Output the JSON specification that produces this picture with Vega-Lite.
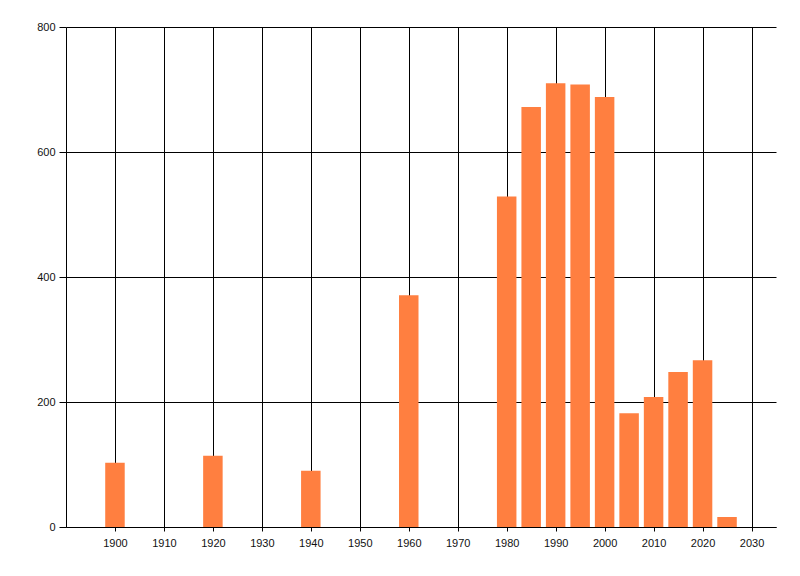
{
  "$schema": "https://vega.github.io/schema/vega-lite/v6.json",
  "width": 710,
  "height": 500,
  "autosize": {"type": "none"},
  "padding": {"left": 66, "top": 27, "right": 24, "bottom": 49},
  "background": "white",
  "data": {
    "values": [
      {"year": 1900, "value": 103},
      {"year": 1920, "value": 114},
      {"year": 1940, "value": 90},
      {"year": 1960, "value": 371},
      {"year": 1980, "value": 529},
      {"year": 1985, "value": 672},
      {"year": 1990, "value": 710},
      {"year": 1995, "value": 708},
      {"year": 2000, "value": 688},
      {"year": 2005, "value": 182},
      {"year": 2010, "value": 208},
      {"year": 2015, "value": 248},
      {"year": 2020, "value": 267},
      {"year": 2025, "value": 16}
    ]
  },
  "mark": {"type": "bar", "size": 19.5, "color": "#FF7F40"},
  "encoding": {
    "x": {
      "field": "year",
      "type": "quantitative",
      "scale": {"domain": [1890, 2035], "nice": false, "zero": false, "padding": 0},
      "axis": {
        "title": null,
        "values": [1900, 1910, 1920, 1930, 1940, 1950, 1960, 1970, 1980, 1990, 2000, 2010, 2020, 2030],
        "format": "d",
        "tickSize": 4,
        "labelPadding": 6
      }
    },
    "y": {
      "field": "value",
      "type": "quantitative",
      "scale": {"domain": [0, 800], "nice": false, "padding": 0},
      "axis": {
        "title": null,
        "values": [0, 200, 400, 600, 800],
        "tickSize": 7,
        "labelPadding": 4
      }
    }
  },
  "config": {
    "view": {"stroke": null},
    "axis": {
      "grid": true,
      "gridColor": "black",
      "gridOpacity": 1,
      "gridWidth": 1,
      "domainColor": "black",
      "domainWidth": 1,
      "tickColor": "black",
      "tickWidth": 1,
      "labelFont": "Liberation Sans",
      "labelFontSize": 11,
      "labelColor": "#111111"
    }
  }
}
